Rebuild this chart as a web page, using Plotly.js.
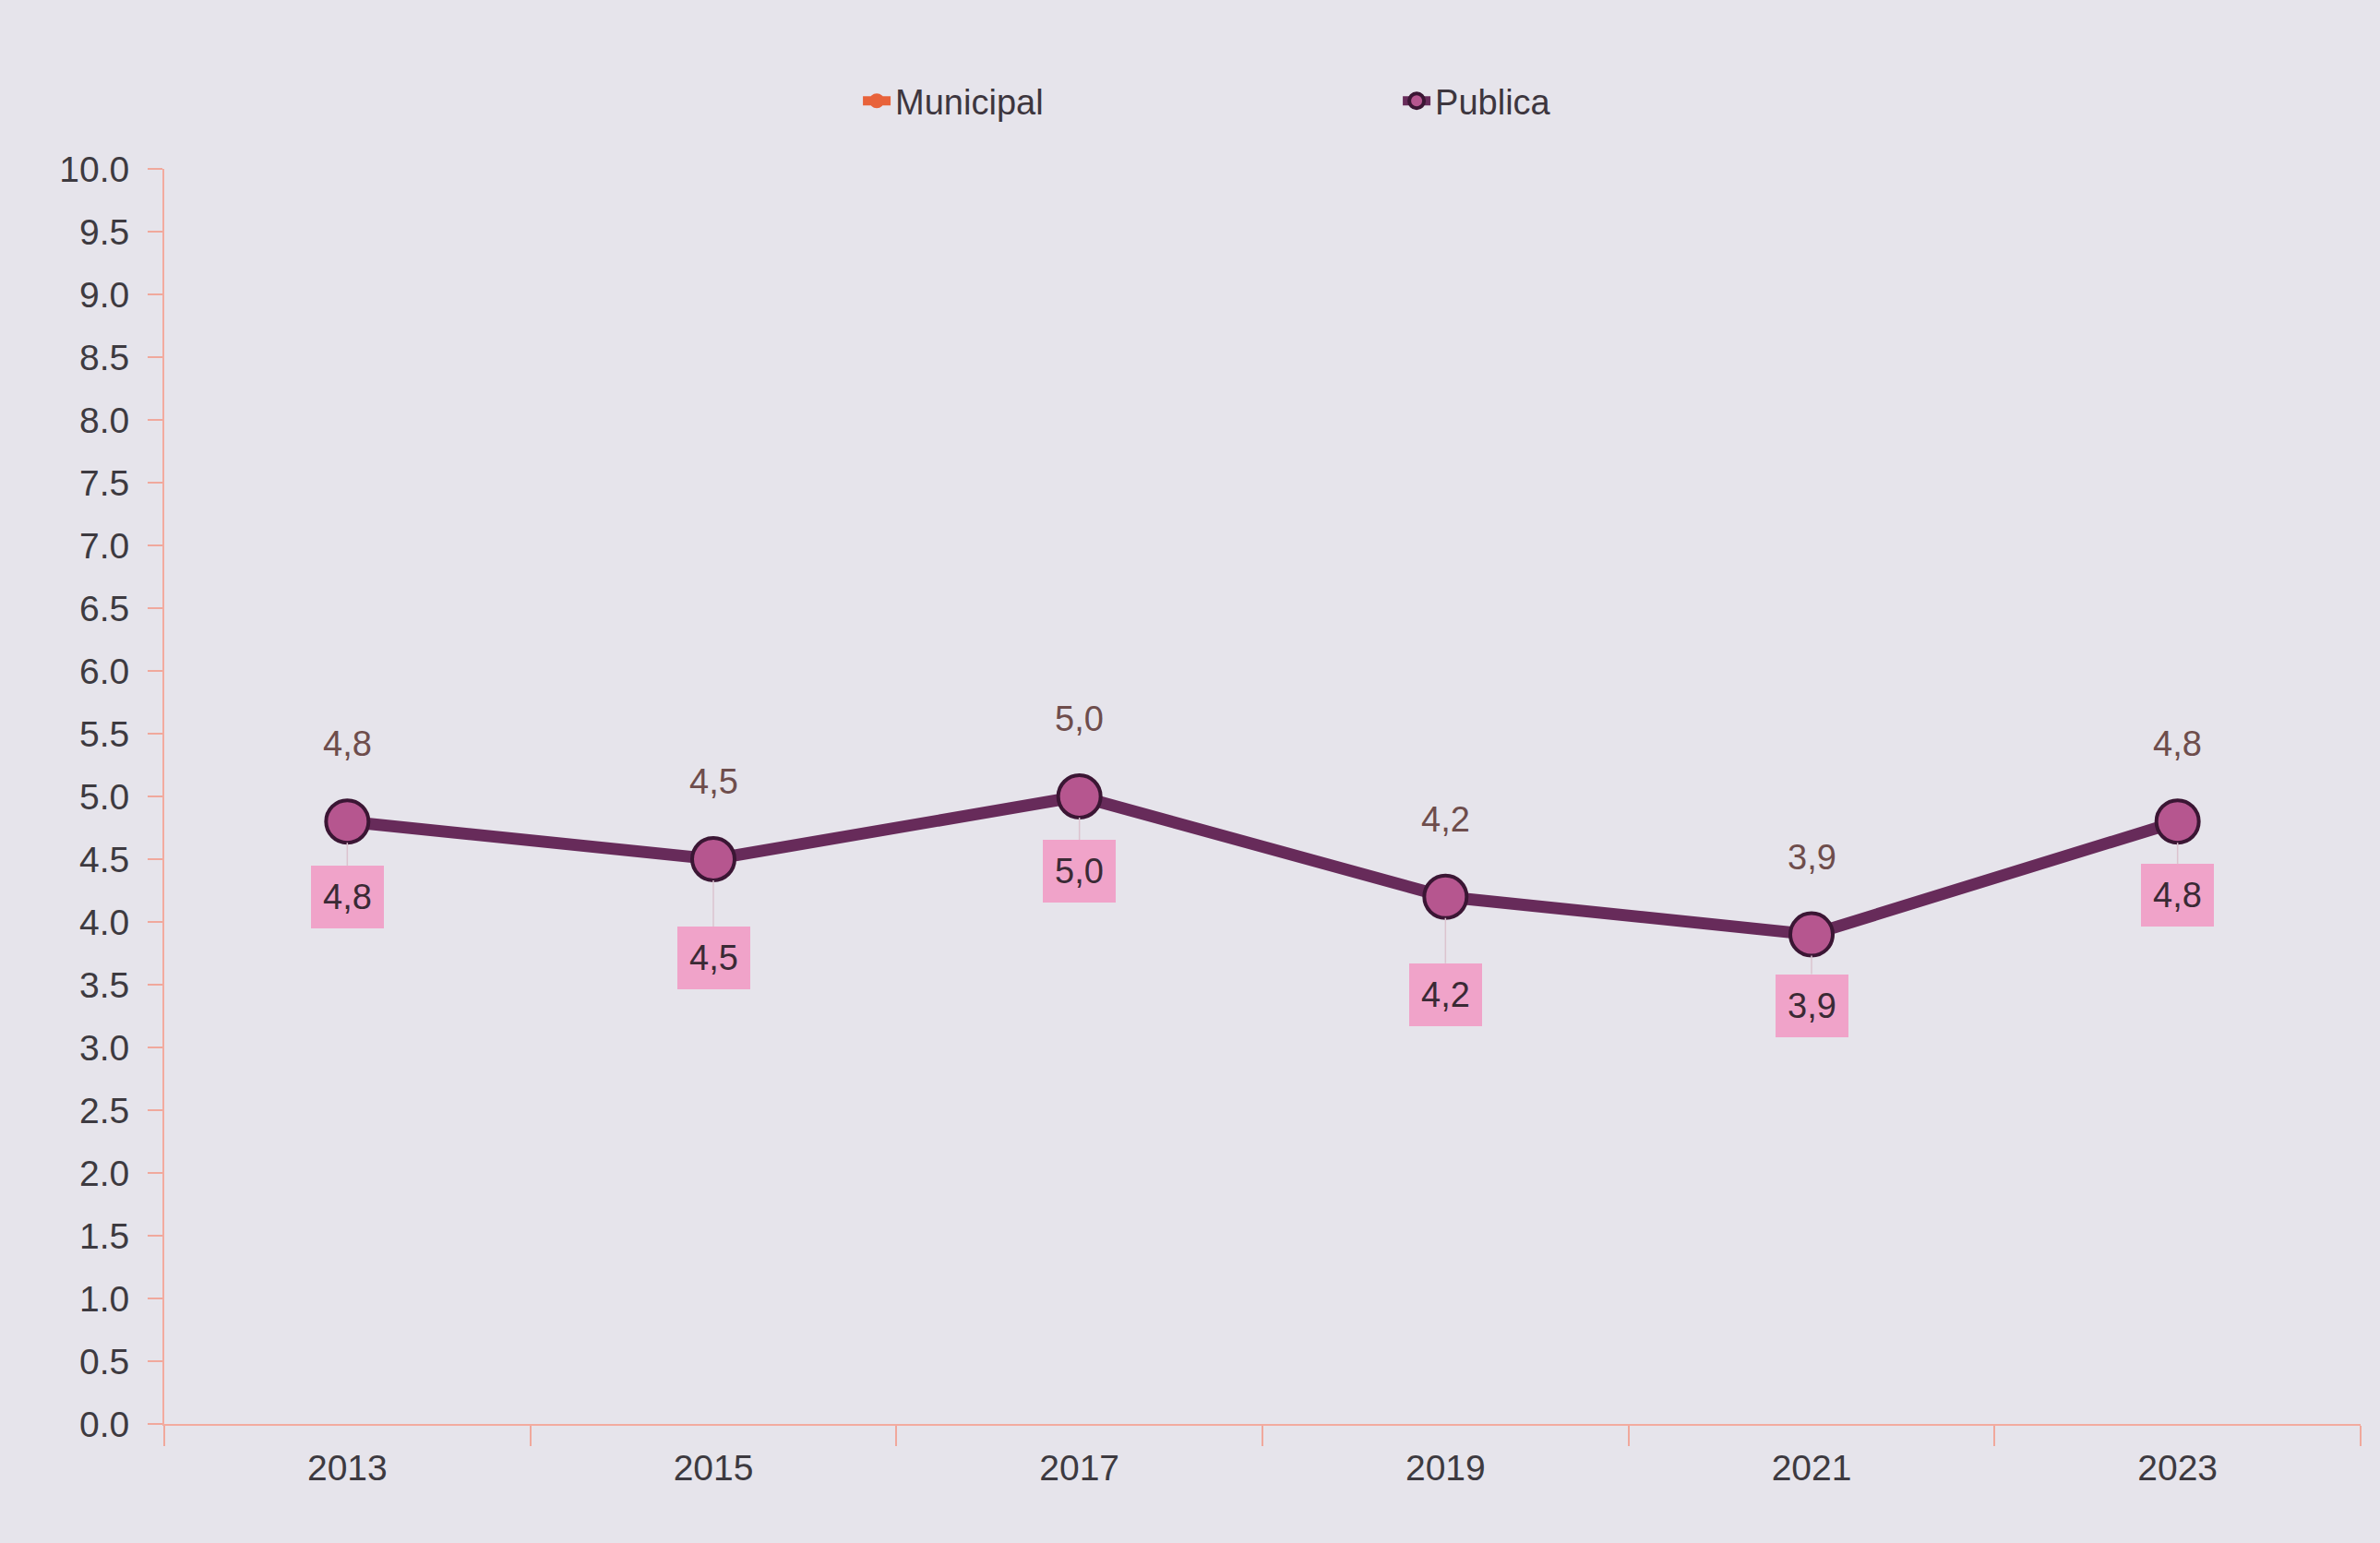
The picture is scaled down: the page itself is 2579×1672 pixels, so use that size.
<!DOCTYPE html>
<html>
<head>
<meta charset="utf-8">
<script src="https://cdn.plot.ly/plotly-3.0.1.min.js"></script>
<style>
html,body{margin:0;padding:0;background:#e6e4eb;}
#chart{width:2579px;height:1672px;}
</style>
</head>
<body>
<div id="chart"></div>
<script>
// ---- data ----
var years = ['2013', '2015', '2017', '2019', '2021', '2023'];
var municipal = [4.8, 4.5, 5.0, 4.2, 3.9, 4.8];
var publica = [4.8, 4.5, 5.0, 4.2, 3.9, 4.8];
var seriesNames = ['Municipal', 'Publica'];
var yTickVals = [0, 0.5, 1, 1.5, 2, 2.5, 3, 3.5, 4, 4.5, 5, 5.5, 6, 6.5, 7, 7.5, 8, 8.5, 9, 9.5, 10];

// ---- styling ----
var FONT = '"Liberation Sans", Arial, sans-serif';
var boxShift = [82, 107, 81, 106, 77, 80];
function fmt(v) { return v.toFixed(1).replace('.', ','); }

var traceMun = {
  x: years, y: municipal, name: seriesNames[0], type: 'scatter', mode: 'lines+markers',
  line: {color: '#e8623a', width: 10},
  marker: {color: '#e8623a', size: 44, symbol: 'circle'},
  hoverinfo: 'x+y'
};
var tracePub = {
  x: years, y: publica, name: seriesNames[1], type: 'scatter', mode: 'lines+markers',
  line: {color: '#672b5a', width: 13},
  marker: {color: '#b6568f', size: 46, symbol: 'circle', line: {color: '#3b1634', width: 4}},
  hoverinfo: 'x+y'
};

var annotations = [];
for (var i = 0; i < years.length; i++) {
  annotations.push({
    x: i, y: municipal[i], xref: 'x', yref: 'y',
    text: fmt(municipal[i]), showarrow: false, yshift: 84,
    font: {family: FONT, size: 38, color: '#6e4d4c'}
  });
  annotations.push({
    x: i, y: publica[i], xref: 'x', yref: 'y',
    text: fmt(publica[i]), showarrow: true, arrowhead: 0, arrowwidth: 1.5,
    arrowcolor: '#dcc3cf', ax: 0, ay: boxShift[i], standoff: 23,
    bgcolor: '#f0a3c9', borderpad: 13, borderwidth: 0,
    font: {family: FONT, size: 38, color: '#3a2a35'}
  });
}

var layout = {
  width: 2579, height: 1672,
  paper_bgcolor: '#e6e4eb', plot_bgcolor: '#e6e4eb',
  margin: {l: 178, r: 21, t: 183, b: 129},
  font: {family: FONT, size: 39, color: '#3d3a40'},
  showlegend: true,
  legend: {
    orientation: 'h', x: 0.316, xanchor: 'left', y: 1.054, yanchor: 'middle',
    bgcolor: 'rgba(0,0,0,0)', font: {family: FONT, size: 38, color: '#3d363e'},
    entrywidth: 540, entrywidthmode: 'pixels', itemsizing: 'trace', itemclick: false
  },
  xaxis: {
    type: 'category', range: [-0.5, 5.5], tickson: 'boundaries',
    ticks: 'outside', ticklen: 22, tickwidth: 2, tickcolor: '#f0a89c',
    showline: true, linecolor: '#f3ab9f', linewidth: 2,
    showgrid: false, zeroline: false, ticklabelstandoff: 12,
    tickfont: {family: FONT, size: 39, color: '#3d3a40'}
  },
  yaxis: {
    range: [0, 10], tickvals: yTickVals, tickformat: '.1f',
    ticks: 'outside', ticklen: 16, tickwidth: 2, tickcolor: '#f0a89c',
    showline: true, linecolor: '#f3ab9f', linewidth: 2,
    showgrid: false, zeroline: false, ticklabelstandoff: 12,
    tickfont: {family: FONT, size: 39, color: '#3d3a40'}
  },
  annotations: annotations
};

Plotly.newPlot('chart', [traceMun, tracePub], layout, {displayModeBar: false, staticPlot: true});
</script>
</body>
</html>
